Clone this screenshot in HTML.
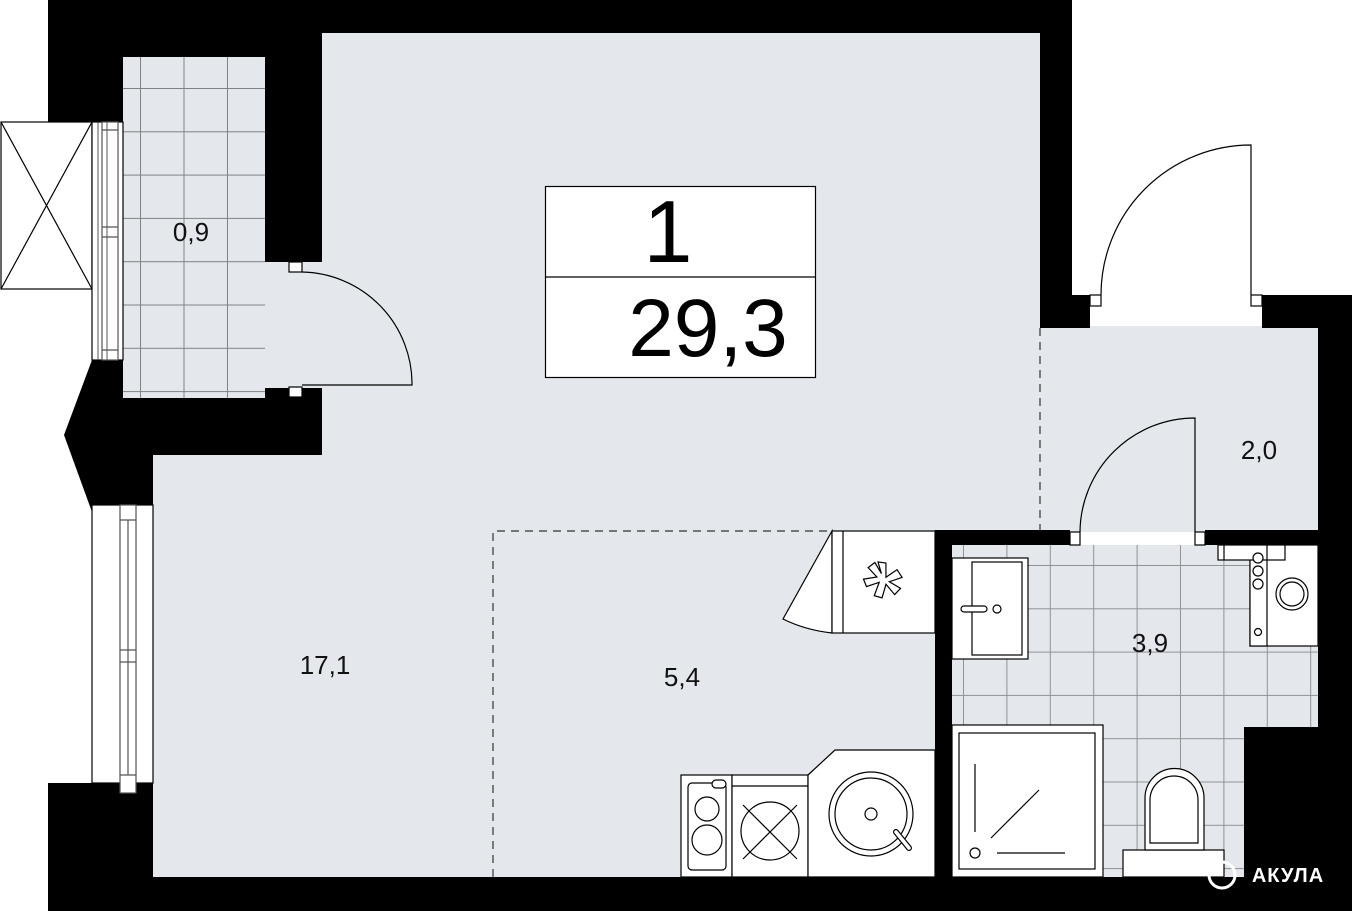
<!DOCTYPE html>
<html><head><meta charset="utf-8"><style>html,body{margin:0;padding:0;background:#fff}svg{display:block}text{font-family:"Liberation Sans",sans-serif}</style></head>
<body>
<svg width="1352" height="911" viewBox="0 0 1352 911" xmlns="http://www.w3.org/2000/svg">
<defs>
<pattern id="tb" x="140" y="88" width="43.5" height="43.3" patternUnits="userSpaceOnUse">
<path d="M0 0V43.3M0 0H43.5" stroke="#808286" stroke-width="2" fill="none"/></pattern>
<pattern id="tw" x="963" y="565" width="43.4" height="43.3" patternUnits="userSpaceOnUse">
<path d="M0 0V43.3M0 0H43.4" stroke="#909296" stroke-width="2" fill="none"/></pattern>
</defs>
<rect x="153" y="30" width="890" height="850" fill="#e4e8ec"/>
<rect x="1040" y="326" width="280" height="206" fill="#e4e8ec"/>
<rect x="123" y="57" width="144" height="341" fill="#e4e8ec"/>
<rect x="123" y="57" width="142" height="341" fill="url(#tb)"/>
<rect x="265" y="265" width="60" height="128" fill="#e4e8ec"/>
<rect x="952" y="545" width="366" height="332" fill="#e4e8ec"/>
<rect x="952" y="545" width="366" height="332" fill="url(#tw)"/>
<g fill="#000">
<rect x="48" y="0" width="1024" height="33"/>
<rect x="48" y="0" width="75" height="122"/>
<rect x="123" y="0" width="199" height="57"/>
<rect x="265" y="0" width="57" height="262"/>
<rect x="1040" y="0" width="32" height="328"/>
<rect x="1072" y="295" width="18" height="33"/>
<rect x="1262" y="295" width="90" height="33"/>
<rect x="1318" y="295" width="34" height="616"/>
<rect x="1244" y="727" width="108" height="184"/>
<rect x="48" y="877" width="1304" height="34"/>
<rect x="48" y="783" width="105" height="128"/>
<polygon points="92,360 123,360 123,398 265,398 265,388 322,388 322,455 153,455 153,505 92,512 64,435"/>
<rect x="935" y="530" width="135" height="15"/>
<rect x="1205" y="530" width="113" height="15"/>
<rect x="935" y="530" width="17" height="347"/>
</g>
<g fill="#fff" stroke="#000" stroke-width="1.2">
<rect x="1" y="122" width="91" height="167"/>
<path d="M1 122L92 289M92 122L1 289" fill="none"/>
<rect x="92" y="122" width="31" height="238"/>
<rect x="102" y="122" width="16" height="238" stroke="#555"/>
<path d="M102 130H118M102 227H118M102 237H118M102 350H118" stroke="#555"/>
<rect x="92" y="505" width="61" height="278"/>
<rect x="120" y="505" width="16" height="288" stroke="#555"/>
<path d="M120 520H136M120 650H136M120 662H136M120 775H136M128 520V775" stroke="#555"/>
</g>
<path d="M98 122V360M107 122V360" stroke="#555" stroke-width="1"/>
<g fill="#fff" stroke="#000" stroke-width="1.2">
<rect x="289" y="262" width="13" height="10"/><rect x="289" y="387" width="13" height="10"/>
<path d="M302 272A112 112 0 0 1 412 385H302" fill="none"/>
<rect x="1090" y="295" width="11" height="11"/><rect x="1251" y="295" width="11" height="11"/>
<path d="M1101 295A150 150 0 0 1 1251 145V295" fill="none"/>
<rect x="1070" y="532" width="10" height="13"/><rect x="1195" y="532" width="10" height="13"/>
<path d="M1080 532A115 115 0 0 1 1195 418V532" fill="none"/>
</g>
<g stroke="#333" stroke-width="1.2" stroke-dasharray="8,6" fill="none">
<path d="M493 877V531H832"/>
<path d="M1040 328V530"/>
</g>
<g fill="#fff" stroke="#000" stroke-width="1.2">
<path d="M832 531L783 619Q805 630 832 633Z"/>
<rect x="832" y="531" width="103" height="102"/>
<path d="M843 531V633"/>
<path d="M875 563l8 0 2 14 10-9 6 7-12 6 12 5-5 7-10-9-2 14-8-1 3-14-12 6-4-7 13-4-10-8 6-6 8 10z" transform="rotate(8 884 584)"/>
<rect x="681" y="775" width="51" height="102"/>
<rect x="688" y="783" width="38" height="87" rx="4"/>
<circle cx="707" cy="809" r="12"/><circle cx="707" cy="840" r="15"/>
<rect x="712" y="780" width="14" height="8" rx="4"/>
<rect x="732" y="775" width="76" height="102"/>
<path d="M732 786H808"/>
<circle cx="770" cy="831" r="29"/>
<path d="M743 805L797 859M797 805L743 859"/>
<path d="M808 775L835 750H935V877H808Z"/>
<circle cx="871" cy="814" r="42"/><circle cx="871" cy="814" r="36"/>
<circle cx="871" cy="814" r="6"/>
<path d="M896 832L909 848" stroke-width="6" stroke-linecap="round"/>
<path d="M896 832L909 848" stroke="#fff" stroke-width="3.6" stroke-linecap="round"/>
<rect x="952" y="558" width="76" height="101"/>
<rect x="972" y="562" width="50" height="93"/>
<rect x="961" y="606" width="26" height="6" rx="3"/><circle cx="997" cy="609" r="4"/>
<rect x="1250" y="545" width="68" height="101"/>
<circle cx="1292" cy="594" r="16"/><circle cx="1292" cy="594" r="12"/>
<rect x="1250" y="545" width="17" height="101"/>
<rect x="1218" y="545" width="67" height="15"/>
<path d="M1224 545V560M1267 545V560"/>
<circle cx="1258" cy="558" r="5"/><circle cx="1258" cy="571" r="5"/><circle cx="1258" cy="584" r="5"/><circle cx="1258" cy="632" r="3.5"/>
<rect x="952" y="725" width="151" height="152"/>
<rect x="959" y="733" width="136" height="136"/>
<path d="M975 764V832M991 838L1039 790M997 853H1065" fill="none"/>
<circle cx="975" cy="853" r="5"/>
<rect x="1123" y="850" width="101" height="27"/>
<path d="M1145 850V798A29 29 0 0 1 1204 798V850Z"/>
<path d="M1150 843V800A24 24 0 0 1 1198 800V843Z"/>
</g>
<rect x="545.5" y="186.5" width="270" height="191" fill="#fff" stroke="#000" stroke-width="1.2"/>
<path d="M545 277H816" stroke="#000" stroke-width="1.2"/>
<text x="668" y="262" font-size="88" text-anchor="middle">1</text>
<text x="708" y="356" font-size="82" text-anchor="middle">29,3</text>
<g font-size="26" text-anchor="middle" fill="#111">
<text x="191" y="241">0,9</text>
<text x="325" y="674">17,1</text>
<text x="682" y="686">5,4</text>
<text x="1259" y="459">2,0</text>
<text x="1150" y="652">3,9</text>
</g>
<circle cx="1222" cy="875" r="13" fill="none" stroke="#fff" stroke-width="3"/>
<text x="1288" y="882" font-size="20" font-weight="bold" fill="#fff" text-anchor="middle" letter-spacing="1">АКУЛА</text>
</svg>
</body></html>
